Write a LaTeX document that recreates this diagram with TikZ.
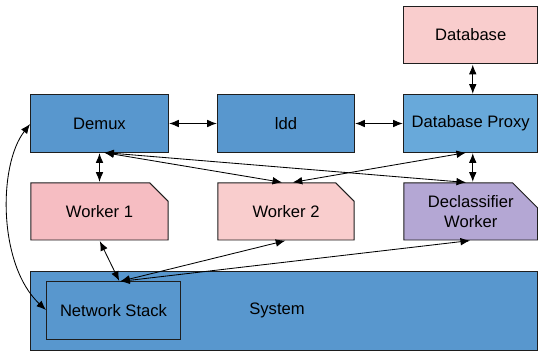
\documentclass[tikz,border=0pt]{standalone}
\usepackage{fontspec}
\setmainfont{Liberation Sans}
\usepackage{xcolor}
\usetikzlibrary{shapes,shapes.misc,arrows.meta,positioning}

\definecolor{demuxblue}{RGB}{88,151,206}
\definecolor{proxyblue}{RGB}{104,169,218}
\definecolor{workerpink}{RGB}{246,189,194}
\definecolor{lightpink}{RGB}{249,205,205}
\definecolor{declasspurple}{RGB}{180,167,212}
\definecolor{edgegray}{RGB}{30,30,30}

\tikzset{
    box/.style={draw=edgegray, line width=0.7pt, minimum width=3.425cm, minimum height=1.425cm,
        inner sep=0pt, align=center, font=\fontsize{11.8}{14}\selectfont},
    workerbox/.style={box, chamfered rectangle, chamfered rectangle corners=north east,
        chamfered rectangle xsep=0.32cm, chamfered rectangle ysep=0.3cm},
    link/.style={{Latex[length=2.4mm,width=1.9mm]}-{Latex[length=2.4mm,width=1.9mm]}, line width=0.6pt,
        shorten <=0.5pt, shorten >=0.5pt}
}

\begin{document}
\begin{tikzpicture}[x=0.025cm, y=-0.025cm]
    \useasboundingbox (0,0) rectangle (538,352);

    % System layer
    \node[box, fill=demuxblue, minimum width=12.66cm, minimum height=1.95cm] (system) at (284.25,311) {};
    \node[font=\fontsize{11.8}{14}\selectfont] (systemlabel) at (277,310) {System};
    \node[box, fill=demuxblue, minimum width=3.325cm] (netstack) at (113.5,310.5) {Network Stack};

    % Top row
    \node[box, fill=lightpink, minimum width=3.34cm] (database) at (470.75,35) {Database};
    \node[box, fill=demuxblue] (demux) at (99.5,123.5) {Demux};
    \node[box, fill=demuxblue, minimum width=3.4cm] (ldd) at (286,123.5) {ldd};
    \node[box, fill=proxyblue, minimum width=3.34cm] (proxy) at (470.75,123.5) {Database Proxy};

    % Workers
    \node[workerbox, fill=workerpink] (worker1) at (99.5,211.5) {Worker 1};
    \node[workerbox, fill=lightpink, minimum width=3.4cm] (worker2) at (286,211.5) {Worker 2};
    \node[workerbox, fill=declasspurple, minimum width=3.34cm] (declass) at (470.75,211.5) {Declassifier\\Worker};

    % Connections
    \draw[link] (demux) -- (ldd);
    \draw[link] (ldd) -- (proxy);
    \draw[link] ([xshift=0.05cm]database.south) -- ([xshift=0.05cm]proxy.north);
    \draw[link] (demux.south) -- (worker1.north);
    \draw[link] ([xshift=0.1cm]demux.south) -- ([xshift=-0.08cm]worker2.north);
    \draw[link] ([xshift=0.1cm]demux.south) -- ([xshift=-0.1cm]declass.north);
    \draw[link] ([xshift=0.15cm]worker2.north) -- ([xshift=-0.1cm]proxy.south);
    \draw[link] ([xshift=0.05cm]proxy.south) -- ([xshift=0.05cm]declass.north);
    \draw[link] ([xshift=0.15cm]netstack.north) -- (worker1.south);
    \draw[link] ([xshift=0.15cm]netstack.north) -- (worker2.south);
    \draw[link] ([xshift=0.15cm]netstack.north) -- (declass.south);
    \draw[link] (demux.west) .. controls (-2,165) and (-2,265) .. (netstack.west);
\end{tikzpicture}
\end{document}
